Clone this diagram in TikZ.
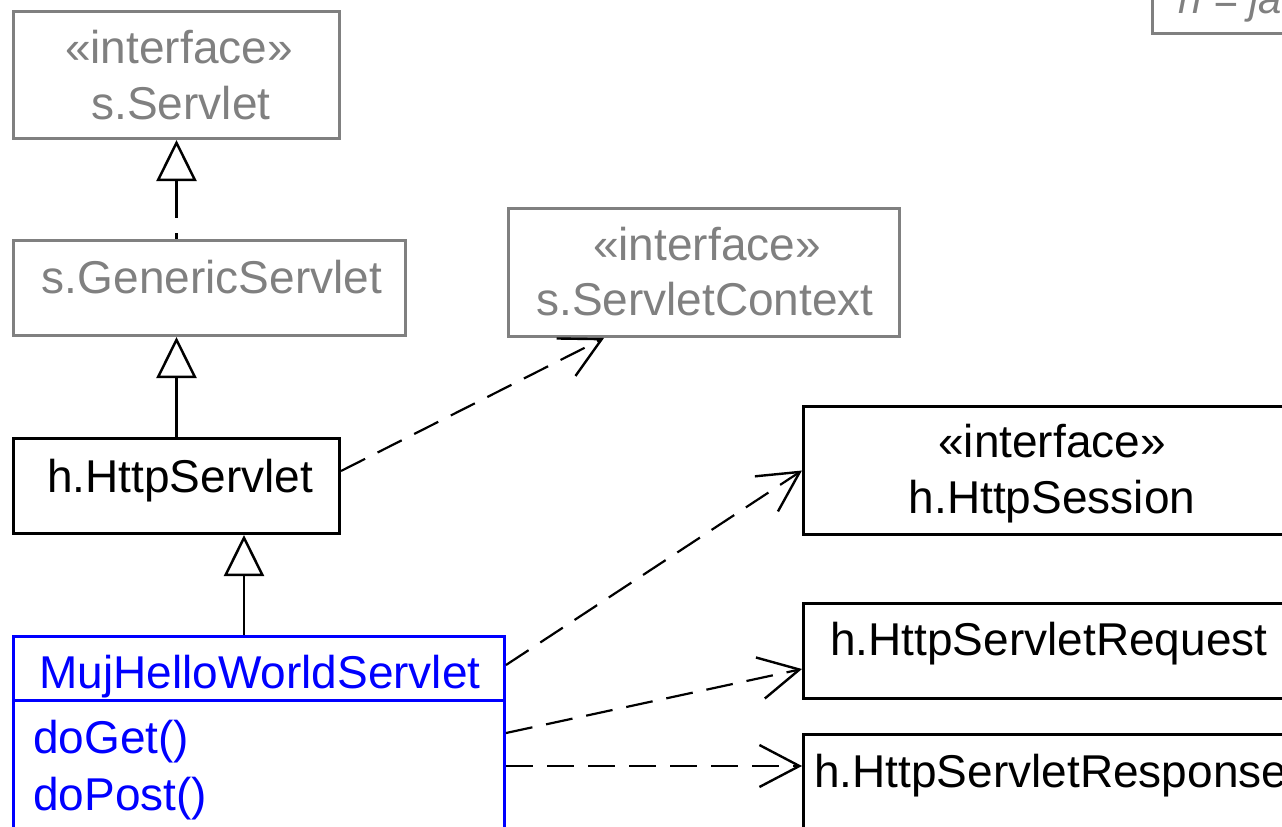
\documentclass[tikz,border=0pt]{standalone}
\usepackage{fontspec}
\setmainfont{Liberation Sans}
\usetikzlibrary{arrows.meta}
\definecolor{umlgray}{HTML}{808080}
\definecolor{umlblue}{HTML}{0000FF}
\begin{document}
\begin{tikzpicture}[x=1pt,y=-1pt,
  box/.style={draw, line width=3pt, rectangle, inner sep=0pt, anchor=north west},
  graybox/.style={box, draw=umlgray},
  blackbox/.style={box, draw=black},
  bluebox/.style={box, draw=umlblue},
  lbl/.style={inner sep=0pt, font=\fontsize{46}{55}\selectfont},
  graylbl/.style={lbl, text=umlgray},
  blacklbl/.style={lbl, text=black},
  bluelbl/.style={lbl, text=umlblue},
  gen/.style={line width=2.5pt, {Triangle[open, length=41pt, width=40pt, line width=2.5pt]}-},
  realize/.style={gen, dash pattern=on 38pt off 15pt},
  dep/.style={line width=2.2pt, dash pattern=on 27pt off 14pt, -{Straight Barb[length=40pt, width=42pt, line width=2.4pt]}},
]
\useasboundingbox (0,0) rectangle (1282,827);
\fill[white] (0,0) rectangle (1282,827);
\clip (0,0) rectangle (1282,827);

% class boxes
\node[graybox, minimum width=326pt, minimum height=127pt] (servlet) at (12,10) {};
\node[graybox, minimum width=392pt, minimum height=95pt] (generic) at (12,239) {};
\node[graybox, minimum width=391pt, minimum height=128pt] (ctx) at (507,207) {};
\node[blackbox, minimum width=326pt, minimum height=95pt] (hs) at (12,437) {};
\node[blackbox, minimum width=500pt, minimum height=128pt] (session) at (802,405) {};
\node[blackbox, minimum width=500pt, minimum height=95pt] (req) at (802,602) {};
\node[blackbox, minimum width=500pt, minimum height=95pt] (resp) at (802,733) {};
\node[bluebox, minimum width=491pt, minimum height=250pt] (muj) at (12,635) {};
\draw[umlblue, line width=3pt] ([yshift=-65pt]muj.north west) -- ([yshift=-65pt]muj.north east);
\node[graybox, minimum width=300pt, minimum height=120pt] (legend) at (1151,-88) {};

% texts
\node[graylbl, anchor=base] (servletS) at (179,63) {«interface»};
\node[graylbl, anchor=base] (servletN) at (181,119) {s.Servlet};
\node[graylbl, anchor=base] (genericN) at (212,293) {s.GenericServlet};
\node[graylbl, anchor=base] (ctxS) at (707,260) {«interface»};
\node[graylbl, anchor=base] (ctxN) at (705,315) {s.ServletContext};
\node[blacklbl, anchor=base] (hsN) at (180,492) {h.HttpServlet};
\node[blacklbl, anchor=base] (sessionS) at (1052,457) {«interface»};
\node[blacklbl, anchor=base] (sessionN) at (1052,513) {h.HttpSession};
\node[blacklbl, anchor=base west] (reqN) at (830,655) {h.HttpServletRequest};
\node[blacklbl, anchor=base west] (respN) at (814,787) {h.HttpServletResponse};
\node[bluelbl, anchor=base west] (mujN) at (39,688) {MujHelloWorldServlet};
\node[bluelbl, anchor=base west] (doget) at (33,753) {doGet()};
\node[bluelbl, anchor=base west] (dopost) at (33,810) {doPost()};
\node[graylbl, anchor=base west, font=\fontsize{42}{50}\selectfont\itshape] (legendT) at (1178,13) {h = ja};

% generalizations
\draw[realize] (servlet.south) -- (servlet.south |- generic.north);
\draw[gen] (generic.south -| hs.north) -- (hs.north);
\draw[gen] ([xshift=-15pt]muj.north |- hs.south) -- ([xshift=-15pt]muj.north);

% dependencies
\draw[dep] ([yshift=15pt]hs.east) -- ([xshift=97pt]ctx.south west);
\draw[dep] ([yshift=-30pt]muj.north east) -- (session.west);
\draw[dep] ([yshift=-98pt]muj.north east) -- ([yshift=-18pt]req.west);
\coordinate (r0) at ([yshift=-131pt]muj.north east);
\draw[dep] (r0) -- (r0 -| resp.west);
\end{tikzpicture}
\end{document}
